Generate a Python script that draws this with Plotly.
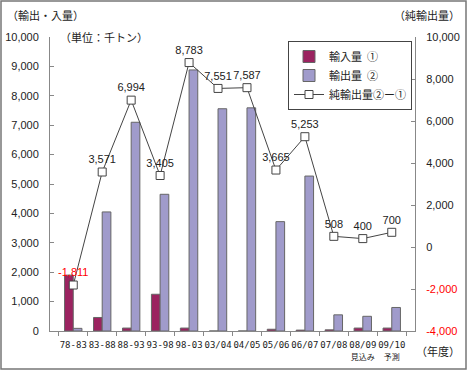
import plotly.graph_objects as go

categories = ["78-83", "83-88", "88-93", "93-98", "98-03", "03/04", "04/05",
              "05/06", "06/07", "07/08", "08/09", "09/10"]
sub_labels = ["", "", "", "", "", "", "", "", "", "", "見込み", "予測"]
imports = [1900, 460, 100, 1250, 100, 0, 0, 60, 30, 40, 100, 100]
exports = [90, 4050, 7100, 4650, 8880, 7560, 7590, 3720, 5270, 550, 500, 800]
net_exports = [-1811, 3571, 6994, 3405, 8783, 7551, 7587, 3665, 5253, 508, 400, 700]

left_ticks = list(range(0, 10001, 1000))
right_ticks = list(range(-4000, 10001, 2000))

W, H = 467, 371
L, R, T, B = 50, 52, 37, 40
PW, PH = W - L - R, H - T - B

def px(x):
    return (x - L) / PW

def py(y):
    return (H - B - y) / PH

JP = "Noto Sans CJK JP"
NUM = "Liberation Sans, Arial, sans-serif"

ticktext = []
for c, s in zip(categories, sub_labels):
    if s:
        ticktext.append(f"{c}<br><span style='font-size:8px;font-family:Noto Sans CJK JP'>{s}</span>")
    else:
        ticktext.append(c)

fig = go.Figure()
fig.add_trace(go.Bar(
    x=categories, y=imports, name="輸入量  ①",
    marker=dict(color="#9B2360", line=dict(color="#666666", width=1)),
))
fig.add_trace(go.Bar(
    x=categories, y=exports, name="輸出量  ②",
    marker=dict(color="#A09BCB", line=dict(color="#666666", width=1)),
))
fig.add_trace(go.Scatter(
    x=categories, y=net_exports, name="純輸出量②ー①", yaxis="y2",
    mode="lines+markers+text",
    line=dict(color="#444444", width=1),
    marker=dict(symbol="square", size=8, color="white",
                line=dict(color="#444444", width=1)),
    text=[f"{v:,}" for v in net_exports],
    textposition="top center",
    textfont=dict(family=NUM, size=11,
                  color=["#FF0000" if v < 0 else "#222222" for v in net_exports]),
    cliponaxis=False,
))

right_text = []
for v in right_ticks:
    if v < 0:
        right_text.append(f"<span style='color:#FF0000'>{v:,}</span>")
    else:
        right_text.append(f"{v:,}")

fig.update_layout(
    template="none",
    width=W, height=H,
    margin=dict(l=L, r=R, t=T, b=B, pad=0),
    paper_bgcolor="white", plot_bgcolor="white",
    barmode="group", bargap=0.4, bargroupgap=0,
    font=dict(family=NUM, size=11, color="#222222"),
    showlegend=True,
    legend=dict(
        x=px(288), y=py(41), xanchor="left", yanchor="top",
        bgcolor="white", bordercolor="#444444", borderwidth=1,
        font=dict(family=JP, size=11, color="#222222"),
        tracegroupgap=0, itemwidth=30,
    ),
    xaxis=dict(
        type="category", automargin=False, tickangle=0,
        tickvals=categories, ticktext=ticktext,
        tickfont=dict(family="DejaVu Sans Mono, monospace", size=9, color="#222222"),
        showline=True, linecolor="#888888", linewidth=1,
        ticks="outside", tickson="boundaries", ticklen=4, tickcolor="#888888",
        showgrid=False, zeroline=False, fixedrange=True,
        ticklabelstandoff=5,
    ),
    yaxis=dict(
        range=[0, 10000], tickvals=left_ticks, automargin=False,
        ticktext=[f"{v:,}" for v in left_ticks],
        showline=True, linecolor="#888888", linewidth=1,
        ticks="inside", ticklen=4, tickcolor="#888888",
        showgrid=False, zeroline=False,
        tickfont=dict(family=NUM, size=11, color="#222222"),
        ticklabelstandoff=8,
    ),
    yaxis2=dict(
        range=[-4000, 10000], tickvals=right_ticks, ticktext=right_text,
        overlaying="y", side="right", automargin=False,
        showline=True, linecolor="#888888", linewidth=1,
        ticks="inside", ticklen=4, tickcolor="#888888",
        showgrid=False, zeroline=False,
        tickfont=dict(family=NUM, size=11, color="#222222"),
        ticklabelstandoff=8,
    ),
)

annots = [
    ("（輸出・入量）", 5, 15, "left"),
    ("（単位：千トン）", 58, 37, "left"),
    ("（純輸出量）", 462, 15, "right"),
    ("（年度）", 462, 351, "right"),
]
for txt, x, y, anc in annots:
    fig.add_annotation(
        text=txt, x=px(x), y=py(y), xref="paper", yref="paper",
        xanchor=anc, yanchor="middle", showarrow=False,
        font=dict(family=JP, size=11, color="#222222"),
    )

fig.add_shape(
    type="rect", xref="paper", yref="paper",
    x0=px(1), x1=px(466), y0=py(1), y1=py(369),
    line=dict(color="#777777", width=1.5), fillcolor="rgba(0,0,0,0)",
    layer="below",
)

fig.write_html("out.html", config={"displayModeBar": False},
               post_script="document.body.style.margin='0';document.body.style.overflow='hidden';")
